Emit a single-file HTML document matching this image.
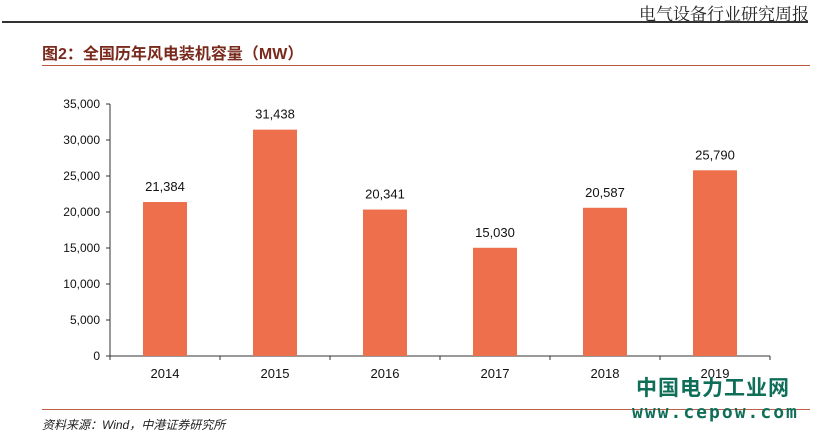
<!DOCTYPE html>
<html><head><meta charset="utf-8"><style>
body{margin:0;width:817px;height:444px;background:#fff;position:relative;overflow:hidden;font-family:"Liberation Sans","Noto Sans CJK SC",sans-serif}
.a{position:absolute}
</style></head><body>
<div class="a" style="right:8px;top:0px;font-size:17px;font-family:'Noto Serif CJK SC',serif;color:#222">电气设备行业研究周报</div>
<div class="a" style="left:2px;top:21px;width:806px;height:2px;background:#333"></div>
<div class="a" style="left:42px;top:40px;font-size:16px;font-weight:bold;color:#7a2a1c">图2：全国历年风电装机容量（MW）</div>
<div class="a" style="left:42px;top:65px;width:768px;height:1px;background:#b5583f"></div>
<svg class="a" style="left:0;top:0" width="817" height="444">
<g id="g"></g></svg>
<div class="a" style="left:42px;top:409px;width:768px;height:1px;background:#c0604a"></div>
<div class="a" style="left:42px;top:416px;font-size:12px;font-style:italic;color:#222">资料来源：Wind，中港证券研究所</div>
<div class="a" style="left:636px;top:372px;font-size:21px;font-weight:bold;color:#0f6e58;letter-spacing:1px">中国电力工业网</div>
<div class="a" style="left:632px;top:402px;font-size:18px;font-weight:bold;color:#0f6e58;letter-spacing:2px;font-family:'DejaVu Sans Mono',monospace">www.cepow.com</div>
<script>
const categories=["2014","2015","2016","2017","2018","2019"];
const values=[21384,31438,20341,15030,20587,25790];
const yTicks=[0,5000,10000,15000,20000,25000,30000,35000];
const NS="http://www.w3.org/2000/svg",g=document.getElementById('g');
const x0=110,cw=110,y0=356,ymax=35000,ph=252;
const y=v=>y0-v/ymax*ph, xc=i=>x0+cw*i+cw/2;
function el(t,a,txt){const e=document.createElementNS(NS,t);for(const k in a)e.setAttribute(k,a[k]);if(txt!=null)e.textContent=txt;g.appendChild(e);return e;}
const fmt=v=>v.toLocaleString('en-US');
const ax=el('line',{x1:x0,y1:y(ymax),x2:x0,y2:y0,stroke:'#333'});


yTicks.forEach(v=>{
 const t=el('line',{x1:x0-4,x2:x0,y1:y(v),y2:y(v),stroke:'#333'});
 
 
 const l=el('text',{x:x0-10,y:y(v)+4,'text-anchor':'end','font-size':12,fill:'#111'},fmt(v));
 
 
});
const xa=el('line',{x1:x0,y1:y0,x2:x0+cw*categories.length,y2:y0,stroke:'#333'});


for(let i=0;i<=categories.length;i++){
 const t=el('line',{x1:x0+cw*i,x2:x0+cw*i,y1:y0,y2:y0+4,stroke:'#333'});
 
 
}
categories.forEach((c,i)=>{
 const b=el('rect',{x:xc(i)-22,y:y(values[i]),width:44,height:y0-y(values[i]),fill:'#ed6f4c'});
 
 
 const v=el('text',{x:xc(i),y:y(values[i])-11,'text-anchor':'middle','font-size':13,fill:'#111'},fmt(values[i]));
 
 
 const l=el('text',{x:xc(i),y:y0+22,'text-anchor':'middle','font-size':13,fill:'#111'},c);
 
 
});
</script>
</body></html>
